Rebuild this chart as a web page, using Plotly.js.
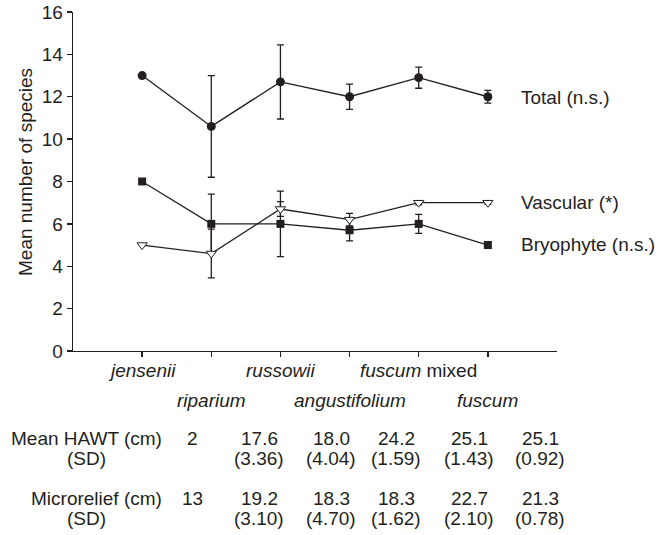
<!DOCTYPE html>
<html>
<head>
<meta charset="utf-8">
<script src="https://cdn.plot.ly/plotly-3.0.1.min.js"></script>
<style>
html,body{margin:0;padding:0;background:#fff;}
#chart{width:667px;height:535px;}
</style>
</head>
<body>
<div id="chart"></div>
<script>
// ---- data ----
var categories = ['jensenii', 'riparium', 'russowii', 'angustifolium', 'fuscum mixed', 'fuscum'];
var total = [13.0, 10.6, 12.7, 12.0, 12.9, 12.0];
var totalErr = [null, 2.4, 1.75, 0.6, 0.5, 0.3];
var vascular = [5.0, 4.6, 6.7, 6.2, 7.0, 7.0];
var vascularErr = [null, 1.15, 0.35, 0.3, 0.1, 0.08];
var bryophyte = [8.0, 6.0, 6.0, 5.7, 6.0, 5.0];
var bryophyteErr = [null, 1.4, 1.55, 0.5, 0.45, 0.15];
var seriesLabels = ['Total (n.s.)', 'Vascular (*)', 'Bryophyte (n.s.)'];
var yTicks = [0, 2, 4, 6, 8, 10, 12, 14, 16];
var rowLabels = ['Mean HAWT (cm)', '(SD)', 'Microrelief (cm)', '(SD)'];
var hawt = ['2', '17.6', '18.0', '24.2', '25.1', '25.1'];
var hawtSD = ['', '(3.36)', '(4.04)', '(1.59)', '(1.43)', '(0.92)'];
var micro = ['13', '19.2', '18.3', '18.3', '22.7', '21.3'];
var microSD = ['', '(3.10)', '(4.70)', '(1.62)', '(2.10)', '(0.78)'];

// ---- layout constants ----
var W = 667, H = 535;
var mL = 73, mR = 110, mT = 12, mB = 184;
var FONT = '"Liberation Sans", Arial, Helvetica, sans-serif';
var FS = 19;
var TXT = '#231f20';
var LINE = '#231f20';
var colPx = [192, 259, 331, 396, 469, 540];
var tableRowPx = [438, 458.5, 498.5, 518.5];
var catRowPx = [370.5, 400.5];

var xs = categories.map(function (c, i) { return i + 1; });
function py(p) { return 1 - (p - mT) / (H - mT - mB); } // pixel y -> paper
function px(p) { return (p - mL) / (W - mL - mR); } // pixel x -> paper

function errObj(arr) {
  return {type: 'data', array: arr, visible: true, color: LINE, thickness: 1.3, width: 3.5};
}
var traces = [
  {x: xs, y: total, error_y: errObj(totalErr), mode: 'lines+markers', type: 'scatter',
   line: {color: LINE, width: 1.3}, marker: {symbol: 'circle', size: 9, color: LINE}},
  {x: xs, y: bryophyte, error_y: errObj(bryophyteErr), mode: 'lines+markers', type: 'scatter',
   line: {color: LINE, width: 1.3}, marker: {symbol: 'square', size: 8, color: LINE}},
  {x: xs, y: vascular, error_y: errObj(vascularErr), mode: 'lines+markers', type: 'scatter',
   line: {color: LINE, width: 1.3}, marker: {symbol: 'triangle-down', size: 9, color: '#ffffff', line: {color: LINE, width: 1}}}
];

var ann = [];
// category labels (two staggered rows)
categories.forEach(function (c, i) {
  var txt = c === 'fuscum mixed' ? '<i>fuscum</i> mixed' : '<i>' + c + '</i>';
  ann.push({x: xs[i], xref: 'x', y: py(catRowPx[i % 2]), yref: 'paper', text: txt, showarrow: false,
    xanchor: 'center', yanchor: 'middle', font: {family: FONT, size: FS, color: TXT}});
});
// series labels at right
var labelPy = [97, 202.5, 244.5];
seriesLabels.forEach(function (s, i) {
  ann.push({x: px(519), xref: 'paper', y: py(labelPy[i]), yref: 'paper', text: s, showarrow: false,
    xanchor: 'left', yanchor: 'middle', font: {family: FONT, size: FS, color: TXT}});
});
// y-axis title
ann.push({x: px(25), xref: 'paper', y: py(172), yref: 'paper', text: 'Mean number of species', textangle: -90,
  showarrow: false, xanchor: 'center', yanchor: 'middle', font: {family: FONT, size: FS, color: TXT}});
// table row labels
[0, 2].forEach(function (r) {
  ann.push({x: px(164), xref: 'paper', y: py(tableRowPx[r]), yref: 'paper', text: rowLabels[r], showarrow: false,
    xanchor: 'right', yanchor: 'middle', font: {family: FONT, size: FS, color: TXT}});
});
[1, 3].forEach(function (r) {
  ann.push({x: px(86), xref: 'paper', y: py(tableRowPx[r]), yref: 'paper', text: rowLabels[r], showarrow: false,
    xanchor: 'center', yanchor: 'middle', font: {family: FONT, size: FS, color: TXT}});
});
// table values
[hawt, hawtSD, micro, microSD].forEach(function (row, r) {
  row.forEach(function (v, i) {
    if (!v) return;
    ann.push({x: px(colPx[i]), xref: 'paper', y: py(tableRowPx[r]), yref: 'paper', text: v, showarrow: false,
      xanchor: 'center', yanchor: 'middle', font: {family: FONT, size: FS, color: TXT}});
  });
});

var layout = {
  width: W, height: H,
  margin: {l: mL, r: mR, t: mT, b: mB, pad: 0},
  paper_bgcolor: '#fff', plot_bgcolor: '#fff',
  showlegend: false,
  font: {family: FONT, size: FS, color: TXT},
  xaxis: {range: [0, 7], showgrid: false, zeroline: false, showline: true, linecolor: LINE, linewidth: 1.3,
    tickmode: 'array', tickvals: xs, ticktext: categories.map(function () { return ''; }),
    ticks: 'outside', ticklen: 5, tickwidth: 1.3, tickcolor: LINE, showticklabels: false, fixedrange: true},
  yaxis: {range: [0, 16], showgrid: false, zeroline: false, showline: true, linecolor: LINE, linewidth: 1.3,
    tickmode: 'array', tickvals: yTicks, ticks: 'outside', ticklen: 5, tickwidth: 1.3, tickcolor: LINE,
    tickfont: {family: FONT, size: FS, color: TXT}, fixedrange: true},
  annotations: ann
};
Plotly.newPlot('chart', traces, layout, {staticPlot: true, displayModeBar: false});
</script>
</body>
</html>
